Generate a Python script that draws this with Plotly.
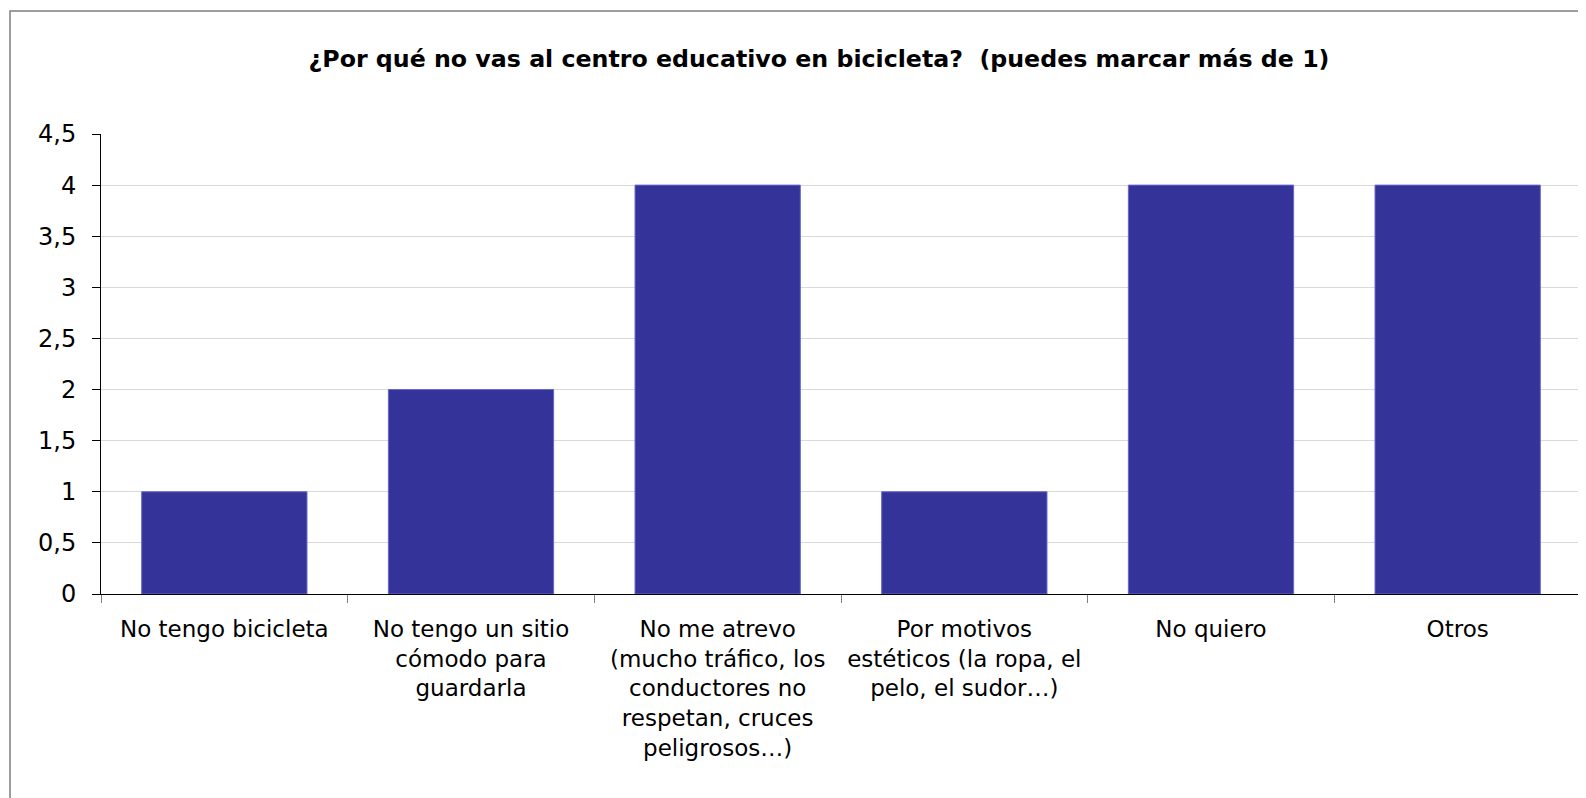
import plotly.graph_objects as go

# Data
categories = [
    "No tengo bicicleta",
    "No tengo un sitio<br>cómodo para<br>guardarla",
    "No me atrevo<br>(mucho tráfico, los<br>conductores no<br>respetan, cruces<br>peligrosos…)",
    "Por motivos<br>estéticos (la ropa, el<br>pelo, el sudor…)",
    "No quiero",
    "Otros",
]
counts = [1, 2, 4, 1, 4, 4]
y_ticks = [0, 0.5, 1, 1.5, 2, 2.5, 3, 3.5, 4, 4.5]

# page body has an 8px margin, so figure coords are offset by 8
W, H = 1586, 798
L, R, T, B = 93, 13, 126, 212
pw, ph = W - L - R, H - T - B

fig = go.Figure()
fig.add_trace(go.Bar(x=categories, y=counts,
                     marker=dict(color="#333399", line=dict(color="#6666cc", width=1)),
                     width=0.67))

fig.update_xaxes(type="category", showline=True, linecolor="black", linewidth=1,
                 ticks="outside", tickson="boundaries", ticklen=8, tickcolor="#808080",
                 showgrid=False, ticklabelstandoff=14,
                 tickfont=dict(size=23, color="black"))
fig.update_yaxes(range=[0, 4.5], tickvals=y_ticks, showline=True, linecolor="black",
                 linewidth=1, ticks="outside", ticklen=8, tickcolor="black",
                 gridcolor="#d9d9d9", gridwidth=1, zeroline=False, ticklabelstandoff=11,
                 tickfont=dict(size=24, color="black"))

# outer chart frame (extends past the right/bottom of the window)
fig.add_shape(type="rect", xref="paper", yref="paper",
              x0=(2 - L) / pw, x1=(W + 20 - L) / pw,
              y0=-(H + 20 - T - ph) / ph, y1=(H - 3 - B) / ph,
              line=dict(color="#7f7f7f", width=1.5), fillcolor="rgba(0,0,0,0)", layer="below")

fig.update_layout(
    title=dict(text="<b>¿Por qué no vas al centro educativo en bicicleta?  (puedes marcar más de 1)</b>",
               x=(811 - L) / pw, xref="paper", xanchor="center", y=1 - 51 / H, yanchor="middle",
               font=dict(size=23.7, color="black")),
    width=W, height=H, autosize=False,
    margin=dict(l=L, r=R, t=T, b=B),
    plot_bgcolor="white", paper_bgcolor="white",
    separators=",.",
    font=dict(family="DejaVu Sans", color="black"),
    showlegend=False,
)

fig.write_html("out.html")
